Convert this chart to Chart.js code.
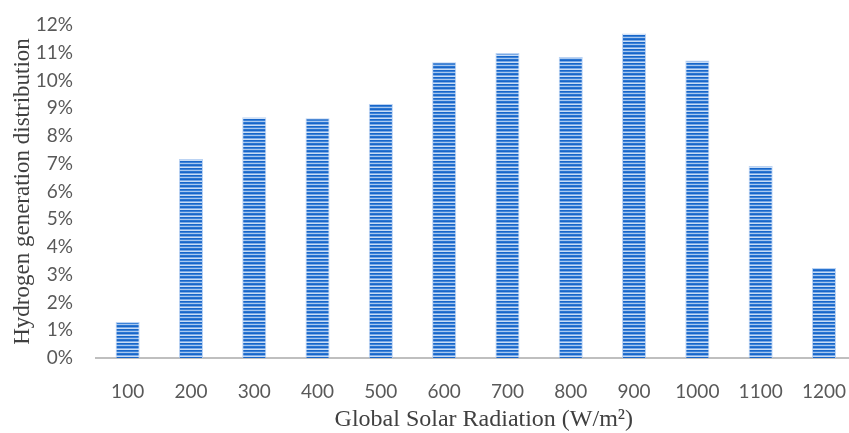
<!DOCTYPE html>
<html>
<head>
<meta charset="utf-8">
<script src="https://cdn.jsdelivr.net/npm/chart.js@4.4.1/dist/chart.umd.min.js"></script>
<style>
  html, body { margin: 0; padding: 0; background: #ffffff; overflow: hidden; }
  #wrap { width: 868px; height: 433px; position: relative; }
</style>
</head>
<body>
<div id="wrap"><canvas id="chart" width="868" height="433"></canvas></div>
<script>
// Global solar radiation bins (W/m²)
const radiationBins = ['100', '200', '300', '400', '500', '600', '700', '800', '900', '1000', '1100', '1200'];
// Share of hydrogen generated in each bin (%)
const hydrogenShare = [1.30, 7.17, 8.68, 8.64, 9.15, 10.66, 10.99, 10.85, 11.69, 10.72, 6.92, 3.24];
// Y axis tick values (%)
const yTicks = [0, 1, 2, 3, 4, 5, 6, 7, 8, 9, 10, 11, 12];
const xTitle = 'Global Solar Radiation (W/m²)';
const yTitle = 'Hydrogen generation distribution';

// Horizontal stripe fill for the bars
function makeStripes(ctx) {
  const rows = ['#1866c9', '#3d83d8', '#a9c8ef', '#2a75d1', '#1866c9', '#7aa9e5', '#c9ddf5'];
  const c = document.createElement('canvas');
  c.width = 4; c.height = rows.length;
  const g = c.getContext('2d');
  rows.forEach((col, i) => { g.fillStyle = col; g.fillRect(0, i, 4, 1); });
  return ctx.createPattern(c, 'repeat');
}

// X axis title, placed slightly right of the plot centre
const xTitlePlugin = {
  id: 'xTitle',
  afterDraw(chart) {
    const { ctx, chartArea } = chart;
    ctx.save();
    ctx.font = '24px "Liberation Serif"';
    ctx.fillStyle = '#404040';
    ctx.textAlign = 'center';
    ctx.textBaseline = 'middle';
    ctx.fillText(xTitle, (chartArea.left + chartArea.right) / 2 + 8, chartArea.bottom + 62);
    ctx.restore();
  }
};

const canvas = document.getElementById('chart');
const ctx = canvas.getContext('2d');

new Chart(ctx, {
  type: 'bar',
  data: {
    labels: radiationBins,
    datasets: [{
      data: hydrogenShare,
      backgroundColor: makeStripes(ctx),
      borderColor: 'rgba(170,200,240,0.8)',
      borderWidth: 1,
      borderSkipped: 'bottom',
      barPercentage: 0.76,
      categoryPercentage: 0.5
    }]
  },
  options: {
    responsive: false,
    animation: false,
    devicePixelRatio: 1,
    layout: { padding: { top: 25, right: 0, bottom: 0, left: 0 } },
    plugins: { legend: { display: false }, tooltip: { enabled: false } },
    scales: {
      x: {
        grid: { display: false, drawTicks: false },
        border: { display: true, color: '#bfbfbf', width: 2 },
        ticks: {
          color: '#595959',
          font: { family: 'Lato', size: 19 },
          padding: 22,
          maxRotation: 0,
          autoSkip: false
        },
        title: { display: false },
        afterFit(scale) { scale.height = 75; }
      },
      y: {
        min: 0,
        max: 12,
        afterBuildTicks(scale) { scale.ticks = yTicks.map(v => ({ value: v })); },
        grid: { display: false, drawTicks: false },
        border: { display: false },
        ticks: {
          color: '#595959',
          font: { family: 'Lato', size: 19 },
          padding: 23,
          callback: v => v + '%'
        },
        title: {
          display: true,
          text: yTitle,
          color: '#404040',
          font: { family: 'Liberation Serif', size: 23 },
          padding: { top: 9, bottom: 0 }
        },
        afterFit(scale) {
          scale.width = 96;
          scale.paddingTop = 0;
          scale.paddingBottom = 0;
        }
      }
    }
  },
  plugins: [xTitlePlugin]
});
</script>
</body>
</html>
